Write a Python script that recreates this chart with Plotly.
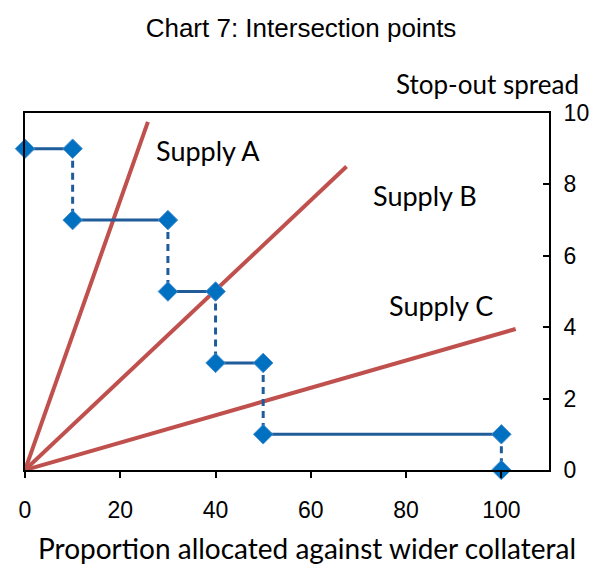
import plotly.graph_objects as go

# Demand step points (proportion, spread)
demand_x = [0, 10, 10, 30, 30, 40, 40, 50, 50, 100, 100]
demand_y = [9, 9, 7, 7, 5, 5, 3, 3, 1, 1, 0]

# Supply lines (start and end points)
supply_a_x = [0, 25.8]
supply_a_y = [0, 9.75]
supply_b_x = [0, 67.5]
supply_b_y = [0, 8.5]
supply_c_x = [0, 103]
supply_c_y = [0, 3.95]

x_ticks = [0, 20, 40, 60, 80, 100]
y_ticks = [0, 2, 4, 6, 8, 10]

blue_line = "#1F5C99"
marker_fill = "#0070C0"
red = "#C0504D"

fig = go.Figure()

for xs, ys in [(supply_a_x, supply_a_y), (supply_b_x, supply_b_y), (supply_c_x, supply_c_y)]:
    fig.add_trace(go.Scatter(x=xs, y=ys, mode="lines",
                             line=dict(color=red, width=4), showlegend=False, hoverinfo="skip"))

hx, hy, vx, vy = [], [], [], []
for i in range(len(demand_x) - 1):
    seg_x = [demand_x[i], demand_x[i + 1], None]
    seg_y = [demand_y[i], demand_y[i + 1], None]
    if demand_y[i] == demand_y[i + 1]:
        hx += seg_x; hy += seg_y
    else:
        vx += seg_x; vy += seg_y

fig.add_trace(go.Scatter(x=hx, y=hy, mode="lines", line=dict(color=blue_line, width=3),
                         showlegend=False, connectgaps=False))
fig.add_trace(go.Scatter(x=vx, y=vy, mode="lines", line=dict(color=blue_line, width=3, dash="7px,5px"),
                         showlegend=False, connectgaps=False))
fig.add_trace(go.Scatter(x=demand_x, y=demand_y, mode="markers",
                         marker=dict(symbol="diamond", size=15, color=marker_fill,
                                     line=dict(color="#4A8FD0", width=1)),
                         showlegend=False, cliponaxis=False))

label_font = dict(family="Lato, Open Sans, sans-serif", size=27, color="black")
arial = "Liberation Sans, Arial, sans-serif"

W, H = 598, 566
L, R, T, B = 11, 57, 105, 104
PW, PH = W - L - R, H - T - B


def px_x(p):
    return (p - 19) / PW


def px_y(p):
    return (470 - p) / PH


fig.update_layout(
    width=W, height=H,
    margin=dict(l=L, r=R, t=T, b=B),
    paper_bgcolor="white", plot_bgcolor="white",
    title=dict(text="Chart 7: Intersection points", x=(301 - 8) / W, xanchor="center",
               xref="container", yref="container",
               y=1 - (28 - 8) / H, yanchor="middle",
               font=dict(family=arial, size=26, color="black")),
    xaxis=dict(range=[0, 110], tickvals=x_ticks, showgrid=False, zeroline=False,
               showline=True, linecolor="black", linewidth=2, mirror=True,
               ticks="outside", ticklen=6, tickwidth=2, tickcolor="black",
               ticklabelstandoff=12,
               tickfont=dict(family=arial, size=23, color="black")),
    yaxis=dict(range=[0, 10], tickvals=y_ticks, side="right", showgrid=False, zeroline=False,
               showline=True, linecolor="black", linewidth=2, mirror=True,
               ticks="inside", ticklen=6, tickwidth=2, tickcolor="black",
               ticklabelstandoff=8,
               tickfont=dict(family=arial, size=23, color="black")),
    annotations=[
        dict(text="Supply A", x=38.4, y=8.96, xref="x", yref="y", showarrow=False, font=label_font),
        dict(text="Supply B", x=84, y=7.7, xref="x", yref="y", showarrow=False, font=label_font),
        dict(text="Supply C", x=87.3, y=4.62, xref="x", yref="y", showarrow=False, font=label_font),
        dict(text="Stop-out spread", x=px_x(487), y=px_y(84), xref="paper", yref="paper",
             xanchor="center", yanchor="middle", showarrow=False,
             font=dict(family="Lato, Open Sans, sans-serif", size=26, color="black")),
        dict(text="Proportion allocated against wider collateral", x=px_x(304), y=px_y(548),
             xref="paper", yref="paper", xanchor="center", yanchor="middle", showarrow=False,
             font=dict(family="Lato, Open Sans, sans-serif", size=28, color="black")),
    ],
)

fig.write_html("out.html")
